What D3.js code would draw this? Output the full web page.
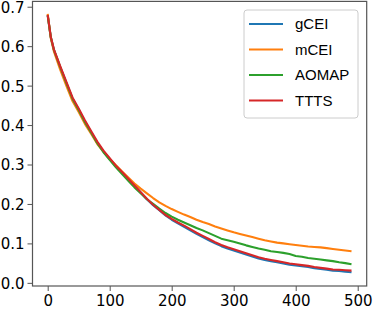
<!DOCTYPE html>
<html><head><meta charset="utf-8">
<script src="https://cdn.jsdelivr.net/npm/d3@7"></script>
<style>body{margin:0;background:#fff}svg{display:block}</style>
</head><body><svg id="c" width="374" height="311"></svg>
<script>
const iterations = [0,5].concat(d3.range(10, 500, 10));
const gCEI = [0.678,0.622,0.590,0.547,0.507,0.467,0.439,0.409,0.382,0.355,0.333,0.314,0.296,0.280,0.264,0.246,0.229,0.212,0.197,0.184,0.171,0.160,0.151,0.142,0.133,0.124,0.116,0.108,0.100,0.093,0.087,0.082,0.077,0.072,0.067,0.062,0.058,0.055,0.052,0.049,0.046,0.044,0.042,0.040,0.037,0.035,0.033,0.031,0.030,0.028,0.027];
const mCEI = [0.682,0.620,0.587,0.541,0.500,0.461,0.433,0.403,0.378,0.352,0.332,0.314,0.298,0.282,0.267,0.252,0.239,0.227,0.215,0.204,0.195,0.187,0.180,0.173,0.167,0.160,0.154,0.149,0.143,0.138,0.133,0.128,0.124,0.120,0.116,0.112,0.108,0.105,0.102,0.100,0.098,0.096,0.094,0.092,0.091,0.090,0.088,0.086,0.084,0.082,0.080];
const AOMAP = [0.678,0.623,0.591,0.548,0.507,0.467,0.438,0.408,0.381,0.354,0.331,0.312,0.293,0.276,0.259,0.242,0.227,0.212,0.200,0.188,0.177,0.168,0.160,0.153,0.146,0.139,0.133,0.126,0.119,0.112,0.108,0.104,0.100,0.095,0.091,0.087,0.084,0.080,0.078,0.076,0.073,0.068,0.066,0.063,0.061,0.059,0.057,0.055,0.052,0.050,0.047];
const TTTS = [0.679,0.624,0.592,0.550,0.510,0.470,0.442,0.412,0.385,0.358,0.335,0.316,0.297,0.281,0.264,0.247,0.230,0.213,0.198,0.185,0.172,0.162,0.153,0.145,0.136,0.127,0.119,0.111,0.103,0.096,0.090,0.085,0.080,0.075,0.070,0.065,0.061,0.058,0.055,0.052,0.049,0.047,0.045,0.043,0.040,0.038,0.036,0.034,0.033,0.032,0.031];
const seriesNames = ["gCEI","mCEI","AOMAP","TTTS"];
const seriesValues = [gCEI, mCEI, AOMAP, TTTS];
const colors = ["#1f77b4","#ff7f0e","#2ca02c","#d62728"];
const xTicks = [0,100,200,300,400,500];
const yTicks = [0.0,0.1,0.2,0.3,0.4,0.5,0.6,0.7];

const svg = d3.select("#c");
const L = 32.5, R = 366.7, T = 1.4, B = 286;
const x = d3.scaleLinear().domain([-24.5, 514.5]).range([L, R]);
const y = d3.scaleLinear().domain([-0.008, 0.7135]).range([B, T]);

const font = "DejaVu Sans, sans-serif";
const line = d3.line().x((d,i)=>x(iterations[i])).y(d=>y(d)).curve(d3.curveLinear);

seriesValues.forEach((vals, k) => {
  svg.append("path").attr("d", line(vals)).attr("fill","none")
    .attr("stroke", colors[k]).attr("stroke-width", 2.1).attr("stroke-linejoin","round");
});

const xa = svg.append("g").attr("transform", `translate(0,${B})`)
  .call(d3.axisBottom(x).tickValues(xTicks).tickSize(5).tickPadding(4).tickFormat(d3.format("d")));
const ya = svg.append("g").attr("transform", `translate(${L},0)`)
  .call(d3.axisLeft(y).tickValues(yTicks).tickSize(5).tickPadding(3).tickFormat(d3.format(".1f")));
[xa, ya].forEach(a => {
  a.select(".domain").remove();
  a.selectAll(".tick line").attr("stroke","#555").attr("stroke-width",1);
  a.selectAll("text").attr("font-family", font).attr("font-size", "15px").attr("fill","#000");
});
ya.selectAll("text").attr("dy","0.36em");
svg.append("rect").attr("x",L).attr("y",T).attr("width",R-L).attr("height",B-T)
  .attr("fill","none").attr("stroke","#555").attr("stroke-width",1.2);

const lg = svg.append("g");
lg.append("rect").attr("x",244).attr("y",10).attr("width",114).attr("height",108).attr("rx",3)
  .attr("fill","#fff").attr("fill-opacity",0.8).attr("stroke","#ccc").attr("stroke-width",1);
seriesNames.forEach((n,k) => {
  const yy = 24 + k*25.5;
  lg.append("line").attr("x1",249).attr("x2",283).attr("y1",yy).attr("y2",yy)
    .attr("stroke",colors[k]).attr("stroke-width",2.1);
  lg.append("text").attr("x",295).attr("y",yy).attr("dy","0.36em").text(n)
    .attr("font-family","Liberation Sans, Arial, sans-serif").attr("font-size","15px");
});
</script></body></html>
